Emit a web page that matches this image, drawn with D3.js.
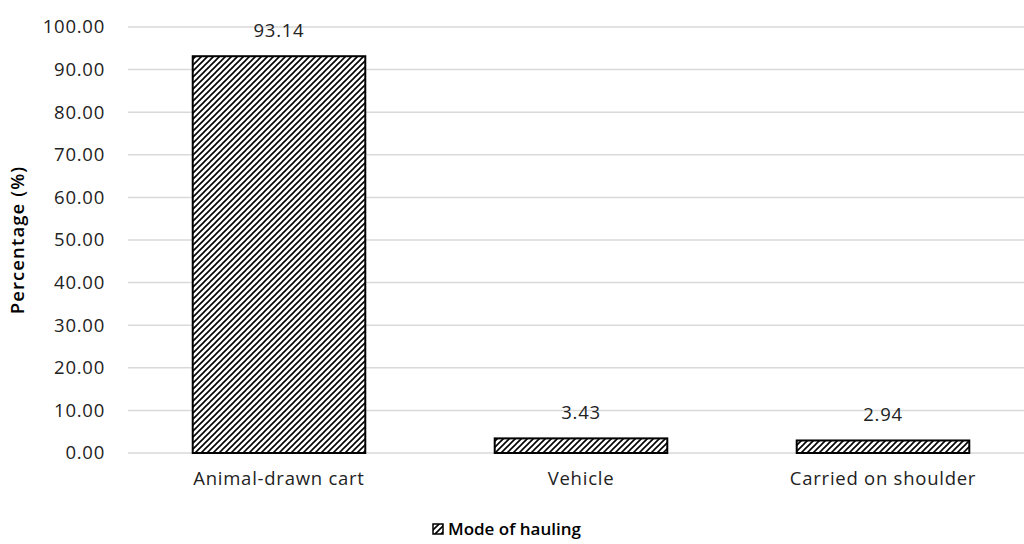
<!DOCTYPE html>
<html>
<head>
<meta charset="utf-8">
<script src="https://cdn.jsdelivr.net/npm/d3@7"></script>
<style>
  body { margin: 0; background: #fff; }
  svg { display: block; font-family: "Open Sans", Lato, sans-serif; }
</style>
</head>
<body>
<svg id="chart" width="1024" height="544"></svg>
<script>
// Share of respondents by mode of hauling
const categories = ["Animal-drawn cart", "Vehicle", "Carried on shoulder"];
const values = [93.14, 3.43, 2.94];
const yTicks = [0, 10, 20, 30, 40, 50, 60, 70, 80, 90, 100];
const seriesName = "Mode of hauling";
const yTitle = "Percentage (%)";

const svg = d3.select("#chart");
const margin = { left: 128, right: -10, top: 27, bottom: 91 };
const W = 1024, H = 544;
const FONT = "'Open Sans', Lato, sans-serif";
const LABEL_SIZE = 18.5;
const LABEL_SPACING = 0.75;

const x = d3.scaleBand()
  .domain(categories)
  .range([margin.left, W - margin.right])
  .paddingInner(0.4286)
  .paddingOuter(0.2143);

const y = d3.scaleLinear()
  .domain([0, 100])
  .range([H - margin.bottom, margin.top]);

// Diagonal hatch fill
const defs = svg.append("defs");
const pat = defs.append("pattern")
  .attr("id", "hatch")
  .attr("patternUnits", "userSpaceOnUse")
  .attr("width", 6).attr("height", 6);
pat.append("rect").attr("width", 6).attr("height", 6).attr("fill", "#fff");
pat.append("path")
  .attr("d", "M-1,1 l2,-2 M0,6 l6,-6 M5,7 l2,-2")
  .attr("stroke", "#000").attr("stroke-width", 1.6);

// Gridlines
svg.append("g")
  .selectAll("line")
  .data(yTicks)
  .join("line")
  .attr("x1", margin.left).attr("x2", W)
  .attr("y1", d => y(d)).attr("y2", d => y(d))
  .attr("stroke", "#d9d9d9").attr("stroke-width", 1.5);

// Y axis labels
const yAxis = svg.append("g")
  .attr("transform", `translate(${margin.left - 23},0)`)
  .call(d3.axisLeft(y).tickValues(yTicks).tickFormat(d3.format(".2f")).tickSize(0).tickPadding(0));
yAxis.select(".domain").remove();
yAxis.selectAll("text")
  .attr("font-size", LABEL_SIZE).attr("letter-spacing", LABEL_SPACING).attr("fill", "#222")
  .attr("font-family", FONT);

// Bars
svg.append("g")
  .selectAll("rect")
  .data(values)
  .join("rect")
  .attr("x", (d, i) => x(categories[i]))
  .attr("width", x.bandwidth())
  .attr("y", d => y(d))
  .attr("height", d => y(0) - y(d))
  .attr("fill", "url(#hatch)")
  .attr("stroke", "#000").attr("stroke-width", 2);

// Value labels
svg.append("g")
  .selectAll("text")
  .data(values)
  .join("text")
  .attr("x", (d, i) => x(categories[i]) + x.bandwidth() / 2)
  .attr("y", d => y(d) - 19)
  .attr("text-anchor", "middle")
  .attr("font-size", LABEL_SIZE).attr("letter-spacing", LABEL_SPACING).attr("fill", "#222")
  .attr("font-family", FONT)
  .text(d => d.toFixed(2));

// X axis labels
const xAxis = svg.append("g")
  .attr("transform", `translate(0,${y(0)})`)
  .call(d3.axisBottom(x).tickSize(0).tickPadding(19));
xAxis.select(".domain").remove();
xAxis.selectAll("text")
  .attr("font-size", LABEL_SIZE).attr("letter-spacing", LABEL_SPACING).attr("fill", "#222")
  .attr("font-family", FONT);

// Y axis title
svg.append("text")
  .attr("transform", `translate(24,${(y(0) + y(100)) / 2}) rotate(-90)`)
  .attr("text-anchor", "middle")
  .attr("font-size", 18.5).attr("font-weight", 600).attr("letter-spacing", 1.1).attr("fill", "#000")
  .text(yTitle);

// Legend
const legend = svg.append("g").attr("transform", "translate(433,524)");
legend.append("rect")
  .attr("width", 10).attr("height", 10)
  .attr("fill", "url(#hatch)")
  .attr("stroke", "#000").attr("stroke-width", 1.5);
legend.append("text")
  .attr("x", 15).attr("y", 11)
  .attr("font-size", 17).attr("font-weight", 600).attr("fill", "#000")
  .text(seriesName);
</script>
</body>
</html>
